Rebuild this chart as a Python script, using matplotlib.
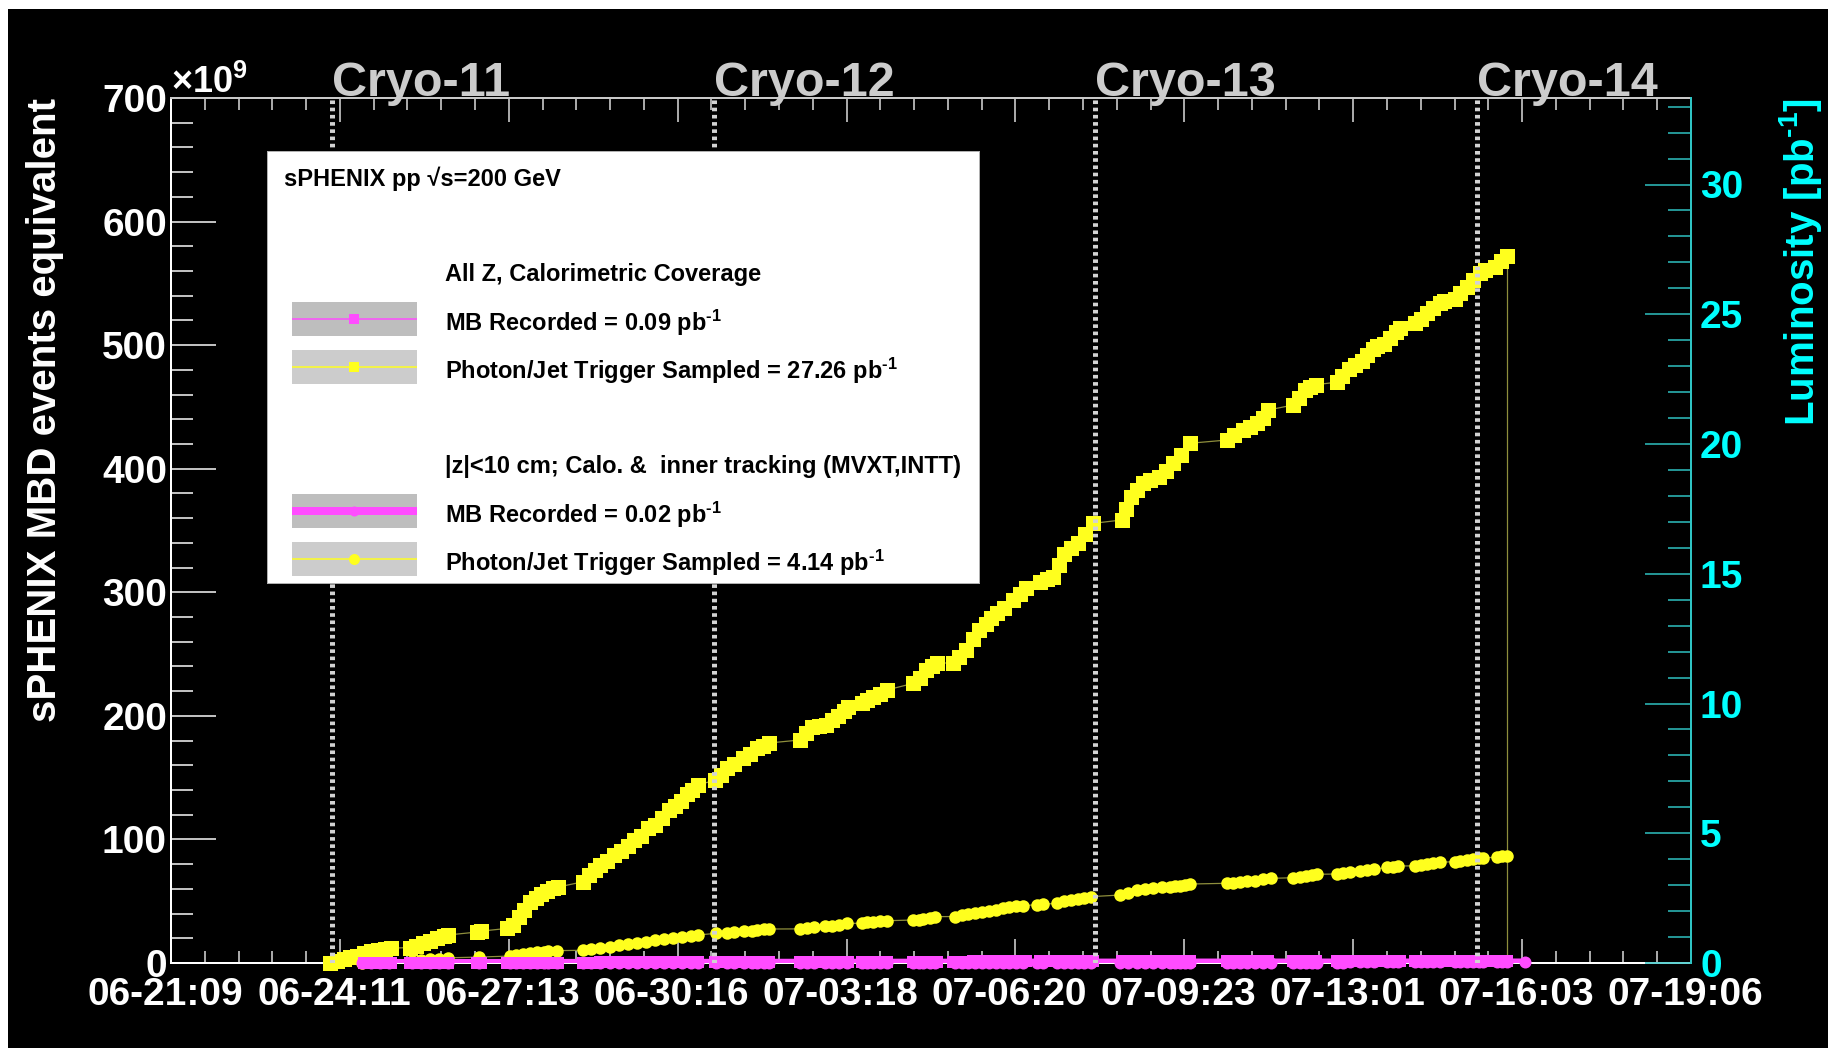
import numpy as np
import matplotlib
matplotlib.use('Agg')
import matplotlib.pyplot as plt
import matplotlib.transforms as mtransforms
from matplotlib.patches import Rectangle
from matplotlib.ticker import FixedLocator, MultipleLocator

plt.rcParams['font.family'] = ['Liberation Sans', 'DejaVu Sans']
plt.rcParams['font.weight'] = 'bold'
plt.rcParams['mathtext.fontset'] = 'custom'
plt.rcParams['mathtext.rm'] = 'Liberation Sans:bold'
plt.rcParams['mathtext.bf'] = 'Liberation Sans:bold'
plt.rcParams['mathtext.it'] = 'Liberation Sans:bold:italic'
plt.rcParams['lines.scale_dashes'] = False

W, H = 1828, 1048
PX = 0.72  # points per pixel at dpi=100
INV_PB = r'pb$^{\text{-}1}$'

# time axis: hours since 06-21 09:00
x_span_h = 669.0
x_tick_labels = ['06-21:09', '06-24:11', '06-27:13', '06-30:16', '07-03:18',
                 '07-06:20', '07-09:23', '07-13:01', '07-16:03', '07-19:06']

cryo_names = ['Cryo-11', 'Cryo-12', 'Cryo-13', 'Cryo-14']
cryo_h = [71.0, 238.9, 406.8, 574.7]

EVENTS_PER_PB = 21.0  # 1e9 MBD-equivalent events per pb^-1

# Photon/Jet trigger sampled, all z  [1e9 events]
pj_all_t = np.array([
    70, 73, 76, 79, 82, 85, 88, 91, 94, 97,
    105, 108, 111, 114, 117, 120, 122,
    134.5, 136.5,
    148, 150.5, 153, 155.5, 158, 160.5, 163, 165.5, 168, 170.5,
    181.5, 184, 186.5, 189, 192, 195, 198, 201, 204, 207, 210, 213, 216, 219, 222, 224.5, 227, 229.5, 232,
    239.4, 242, 244.6, 248, 251.9, 255, 257.8, 260.5, 263,
    277, 279.5, 282, 285, 288.5, 291, 293.5, 296, 298,
    304, 306.5, 309, 312, 315,
    326.7, 329.5, 332.5, 335, 337,
    344.3, 347, 350, 353, 355.5, 358.5, 361, 363.5, 366.5, 370.5, 373.5, 376.5,
    382.5, 385.5, 388.3,
    391, 393, 396, 399.3, 402.5, 405.9,
    418.4, 420.5, 422.5, 425, 428, 431, 435, 438, 441, 444.5, 448.5,
    464.6, 468, 472, 475, 478, 480.5, 483,
    494, 496.5, 499, 501.5, 504,
    513, 515.5, 518.5, 521,
    524, 526.5, 529, 531,
    534, 536.5, 539, 541,
    547.5, 550, 552.7, 555.5, 558.5, 560.5,
    565.1, 567.5, 570.3, 573, 576, 578.5,
    582.7, 585.5, 588,
])
pj_all_v = np.array([
    0, 1.5, 3, 4.5, 6, 8, 9.5, 10.5, 11.5, 12,
    12.5, 14, 16, 18, 20, 21.5, 22.7,
    25, 25.8,
    28, 31, 37, 43, 49, 53, 56, 58.5, 60.5, 61.5,
    65.8, 71, 75.5, 79, 82.5, 87.4, 91, 95, 99.5, 103, 109, 112, 117, 124, 127, 131, 137, 140, 144,
    148, 152, 157.5, 161, 165.6, 169, 173.7, 176, 178,
    180.5, 186, 191, 192, 193, 197, 200, 204, 207.4,
    210.2, 213, 215.5, 218, 220.9,
    226.3, 231, 237, 240, 242.5,
    243, 248, 253.3, 262, 269.5, 274, 279, 283, 287, 293.8, 299, 303.2,
    308.6, 311, 312.6,
    322, 331, 336, 339.6, 347, 355.8,
    358.5, 367, 377.4, 383, 388.2, 391, 393.6, 398, 404.4, 411, 420.6,
    423.2, 427, 431.3, 434, 436.7, 441, 447.5,
    451.6, 457, 463.7, 466, 468,
    470, 475, 481, 484,
    487, 492, 497, 499,
    501, 506, 511, 514,
    517.7, 521, 525.8, 530, 534, 536,
    537, 542, 547.3, 553, 558, 561,
    563.5, 568, 572.5,
])

# Photon/Jet trigger sampled, |z|<10 cm  [1e9 events]
pj_z10_t = np.array([
    84, 88, 92, 96,
    106, 110, 114, 118, 122,
    135.5,
    149, 152, 155, 158, 161, 164, 166,
    170,
    181.5, 185, 189, 193, 197, 201, 205, 209, 213, 217, 221, 225, 229, 232,
    240, 244.5, 248, 252, 255.5, 258, 261, 263,
    277, 280, 283, 288, 291, 294, 297.4,
    304, 306.5, 309, 312, 315,
    326.7, 329, 331, 334, 336.3,
    345, 348, 351, 354, 357, 360, 363, 366, 369, 372, 375,
    381, 384,
    390, 393, 396, 399, 402, 405,
    417.7, 421, 425, 428.5, 432.4, 436, 439.7, 442, 444.1, 446.5, 448.5,
    464.6, 467.5, 470.5, 473.5, 477, 480.8, 484,
    494, 497, 499.5, 502, 504.3,
    513, 516, 519,
    523.3, 526.5, 529.5,
    535, 538, 540,
    547.5, 550, 552.7, 555.5, 558.5,
    565.1, 567.5, 570.3, 573, 575.5, 577.6,
    583.5, 586, 588,
])
pj_z10_v = np.array([
    0.3, 0.6, 0.9, 1.2,
    1.8, 2.4, 3.0, 3.6, 4.2,
    4.8,
    5.6, 6.3, 7.0, 7.8, 8.6, 9.3, 9.7,
    10.0,
    10.3, 11.3, 12.3, 13.3, 14.3, 15.3, 16.3, 17.3, 18.3, 19.3, 20.2, 21.2, 22.0, 22.7,
    24.0, 24.4, 25.0, 25.5, 26.1, 26.8, 27.2, 27.5,
    27.6, 28.5, 29.2, 29.6, 30.0, 30.8, 32.0,
    32.2, 32.8, 33.4, 33.8, 34.2,
    34.8, 35.2, 35.6, 36.5, 37.5,
    37.6, 38.6, 39.8, 40.8, 41.6, 42.4, 43.2, 44.4, 45.3, 45.9, 46.4,
    47.2, 47.6,
    48.3, 49.8, 51.0, 52.0, 53.0, 53.7,
    55.0, 56.8, 58.8, 60.0, 60.9, 61.3, 61.7, 62.0, 62.3, 63.2, 63.9,
    64.5, 65.0, 65.8, 66.2, 66.6, 67.7, 68.5,
    69.0, 69.8, 70.4, 71.0, 71.8,
    72.0, 72.8, 73.9,
    74.7, 75.2, 75.8,
    77.4, 78.0, 78.5,
    78.6, 79.3, 80.1, 80.8, 81.5,
    82.0, 82.6, 83.4, 84.0, 84.6, 85.2,
    85.5, 86.2, 86.94,
])

# MB recorded, all z: same runs as the all-z trigger, starting at 06-24 20:00
mb_start_h = 83.0
mb_all_v = np.array([
    0.00, 0.01, 0.02, 0.03, 0.04,
    0.05, 0.06, 0.07, 0.08, 0.09, 0.10, 0.11,
    0.13, 0.14,
    0.16, 0.18, 0.20, 0.22, 0.24, 0.26, 0.28, 0.30, 0.32, 0.33,
    0.35, 0.37, 0.39, 0.41, 0.43, 0.45, 0.47, 0.49, 0.51, 0.53, 0.55, 0.57, 0.59, 0.61, 0.63, 0.65, 0.67, 0.69, 0.71,
    0.73, 0.75, 0.77, 0.79, 0.81, 0.83, 0.85, 0.87, 0.88,
    0.90, 0.92, 0.94, 0.96, 0.98, 1.00, 1.02, 1.04, 1.05,
    1.07, 1.08, 1.09, 1.10, 1.11,
    1.13, 1.14, 1.15, 1.16, 1.17,
    1.19, 1.20, 1.21, 1.22, 1.23, 1.24, 1.25, 1.26, 1.27, 1.28, 1.29, 1.30,
    1.31, 1.32, 1.33,
    1.34, 1.35, 1.36, 1.37, 1.38, 1.39,
    1.41, 1.42, 1.43, 1.44, 1.45, 1.46, 1.47, 1.48, 1.49, 1.50, 1.51,
    1.53, 1.54, 1.55, 1.56, 1.57, 1.58, 1.59,
    1.61, 1.62, 1.63, 1.64, 1.65,
    1.67, 1.68, 1.69, 1.70,
    1.71, 1.72, 1.73, 1.74,
    1.75, 1.76, 1.77, 1.78,
    1.79, 1.80, 1.81, 1.82, 1.83, 1.84,
    1.85, 1.86, 1.86, 1.87, 1.87, 1.88,
    1.88, 1.89, 1.89,
])

# MB recorded, |z|<10 cm: same runs as the |z|<10 trigger plus one last run
mb_z10_v = np.array([
    0.00, 0.00, 0.01, 0.01,
    0.02, 0.02, 0.03, 0.03, 0.04,
    0.04,
    0.05, 0.05, 0.06, 0.06, 0.07, 0.07, 0.08,
    0.08,
    0.09, 0.09, 0.10, 0.10, 0.11, 0.11, 0.12, 0.12, 0.13, 0.13, 0.14, 0.14, 0.15, 0.15,
    0.16, 0.16, 0.17, 0.17, 0.18, 0.18, 0.19, 0.19,
    0.20, 0.20, 0.21, 0.21, 0.22, 0.22, 0.23,
    0.23, 0.24, 0.24, 0.25, 0.25,
    0.26, 0.26, 0.27, 0.27, 0.27,
    0.28, 0.28, 0.29, 0.29, 0.30, 0.30, 0.30, 0.31, 0.31, 0.31, 0.32,
    0.32, 0.32,
    0.33, 0.33, 0.33, 0.34, 0.34, 0.34,
    0.35, 0.35, 0.35, 0.36, 0.36, 0.36, 0.37, 0.37, 0.37, 0.37, 0.38,
    0.38, 0.38, 0.38, 0.39, 0.39, 0.39, 0.39,
    0.39, 0.40, 0.40, 0.40, 0.40,
    0.40, 0.40, 0.41,
    0.41, 0.41, 0.41,
    0.41, 0.41, 0.41,
    0.41, 0.41, 0.42, 0.42, 0.42,
    0.42, 0.42, 0.42, 0.42, 0.42, 0.42,
    0.42, 0.42, 0.42,
])
mb_last_run_h = 596.0
mb_last_run_v = 0.42

mb_all_t = pj_all_t[pj_all_t >= mb_start_h]
mb_z10_t = np.append(pj_z10_t, mb_last_run_h)
mb_z10_v = np.append(mb_z10_v, mb_last_run_v)

YELLOW = '#ffff1e'
OLIVE = '#8e8e3c'
MAGENTA = '#ff4cff'
CYAN_TXT = '#00ffff'
CYAN_AX = '#2fc4c4'
GRAY = '#cccccc'

fig = plt.figure(figsize=(W / 100, H / 100), dpi=100, facecolor='white')
fig.add_artist(Rectangle((8 / W, 0), 1 - 8 / W, 1 - 9 / H, transform=fig.transFigure,
                         facecolor='black', edgecolor='none', zorder=-10))

ax = fig.add_axes([171 / W, 1 - 963 / H, 1520 / W, 865 / H])
ax.set_facecolor('black')
ax.set_xlim(0, x_span_h)
ax.set_ylim(0, 700)

# curves
ax.plot(pj_all_t, pj_all_v, color=OLIVE, lw=0.9, zorder=3)
ax.vlines(pj_all_t[-1], 0, pj_all_v[-1], color=OLIVE, lw=0.9, zorder=3)
ax.plot(pj_all_t, pj_all_v, 's', color=YELLOW, ms=15 * PX, mew=0, clip_on=False, zorder=4)

ax.plot(pj_z10_t, pj_z10_v, color=OLIVE, lw=0.9, zorder=5)
ax.plot(pj_z10_t, pj_z10_v, 'o', color=YELLOW, ms=12.5 * PX, mew=0, clip_on=False, zorder=6)

ax.plot(mb_z10_t, mb_z10_v, color=MAGENTA, lw=8 * PX, zorder=7)
ax.plot(mb_all_t, mb_all_v, color=MAGENTA, lw=1.5 * PX, zorder=7)
ax.plot(mb_all_t, mb_all_v, 's', color=MAGENTA, ms=12 * PX, mew=0, clip_on=False, zorder=8)
ax.plot(mb_z10_t, mb_z10_v, 'o', color=MAGENTA, ms=12 * PX, mew=0, clip_on=False, zorder=8)

# cryo cycle markers
top_tr = mtransforms.blended_transform_factory(ax.transData, ax.transAxes)
for name, h in zip(cryo_names, cryo_h):
    ax.axvline(h, color='#d2d2d2', lw=5 * PX, dashes=(2.6, 2.6), zorder=9)
    ax.text(h, 1 + 1.5 / 865, name, transform=top_tr, ha='left', va='baseline',
            color=GRAY, fontsize=35, clip_on=False)

# axes styling
for side in ('left', 'bottom'):
    ax.spines[side].set_color('white')
    ax.spines[side].set_linewidth(2 * PX)
ax.spines['top'].set_color('#c8c8c8')
ax.spines['top'].set_linewidth(2 * PX)
ax.spines['right'].set_visible(False)

ax.set_xticks(np.linspace(0, x_span_h, len(x_tick_labels)), x_tick_labels)
ax.xaxis.set_minor_locator(FixedLocator(np.linspace(0, x_span_h, 5 * (len(x_tick_labels) - 1) + 1)))
ax.tick_params(axis='x', which='both', direction='in', top=True, color='#e0e0e0',
               width=1.5 * PX, labelcolor='white', labelsize=28, pad=14 * PX)
ax.tick_params(axis='x', which='major', length=24 * PX)
ax.tick_params(axis='x', which='minor', length=12 * PX)
shift_left = mtransforms.ScaledTranslation(-6 / 100, 0, fig.dpi_scale_trans)
for lab in ax.get_xticklabels():
    lab.set_transform(lab.get_transform() + shift_left)

ax.yaxis.set_major_locator(MultipleLocator(100))
ax.yaxis.set_minor_locator(MultipleLocator(20))
ax.tick_params(axis='y', which='both', direction='in', right=False, color='white',
               width=1.5 * PX, labelcolor='white', labelsize=28, pad=4 * PX)
ax.tick_params(axis='y', which='major', length=45 * PX)
ax.tick_params(axis='y', which='minor', length=22 * PX)

# luminosity axis
ax2 = ax.twinx()
ax2.set_ylim(0, 700 / EVENTS_PER_PB)
for side in ('left', 'top', 'bottom'):
    ax2.spines[side].set_visible(False)
ax2.spines['right'].set_color(CYAN_AX)
ax2.spines['right'].set_linewidth(2 * PX)
ax2.yaxis.set_major_locator(MultipleLocator(5))
ax2.yaxis.set_minor_locator(MultipleLocator(1))
ax2.tick_params(axis='y', which='both', direction='in', color=CYAN_AX, width=1.5 * PX,
                labelcolor=CYAN_TXT, labelsize=28, pad=9 * PX)
ax2.tick_params(axis='y', which='major', length=46 * PX)
ax2.tick_params(axis='y', which='minor', length=23 * PX)

# titles
fig.text(171 / W, 1 - 93 / H, '×10$^{9}$', ha='left', va='baseline', color='white', fontsize=26)
fig.text(45 / W, 1 - 98 / H, 'sPHENIX MBD events equivalent', rotation=90,
         ha='center', va='top', color='white', fontsize=29)
fig.text(1800 / W, 1 - 98 / H, 'Luminosity [' + INV_PB + ']', rotation=90,
         ha='center', va='top', color=CYAN_TXT, fontsize=29)

# legend box, laid out in pixel units
lax = fig.add_axes([267 / W, 1 - 583 / H, 712 / W, 432 / H])
lax.set_zorder(20)
lax.set_xlim(267, 979)
lax.set_ylim(583, 151)
lax.set_facecolor('white')
lax.set_xticks([])
lax.set_yticks([])
for s in lax.spines.values():
    s.set_color('#b0b0b0')
    s.set_linewidth(1 * PX)

fs = 17
lax.text(284, 179, 'sPHENIX pp √s=200 GeV', va='center', ha='left', fontsize=fs, color='black')
lax.text(445, 275, 'All Z, Calorimetric Coverage', va='center', ha='left', fontsize=fs, color='black')
lax.text(445, 467, '|z|<10 cm; Calo. &  inner tracking (MVXT,INTT)', va='center', ha='left',
         fontsize=fs, color='black')

rows = [
    (319, '#bebebe', MAGENTA, 1.5, 's', 10, f'MB Recorded = {mb_all_v[-1] / EVENTS_PER_PB:.2f}'),
    (367, '#cccccc', YELLOW, 1.5, 's', 10, f'Photon/Jet Trigger Sampled = {pj_all_v[-1] / EVENTS_PER_PB:.2f}'),
    (511, '#bebebe', MAGENTA, 8, 'o', 10, f'MB Recorded = {mb_z10_v[-1] / EVENTS_PER_PB:.2f}'),
    (559, '#cccccc', YELLOW, 1.5, 'o', 11, f'Photon/Jet Trigger Sampled = {pj_z10_v[-1] / EVENTS_PER_PB:.2f}'),
]
for yc, bg, col, lw, mk, ms, label in rows:
    lax.add_patch(Rectangle((292, yc - 17), 124.5, 34, facecolor=bg, edgecolor='none'))
    lax.plot([292, 416.5], [yc, yc], color=col, lw=lw * PX, solid_capstyle='butt')
    lax.plot([354], [yc], mk, color=col, ms=ms * PX, mew=0)
    lax.text(445, yc + 4, label + ' ' + INV_PB, va='center', ha='left', fontsize=fs, color='black')

fig.savefig('out.png', dpi=100, facecolor=fig.get_facecolor())
